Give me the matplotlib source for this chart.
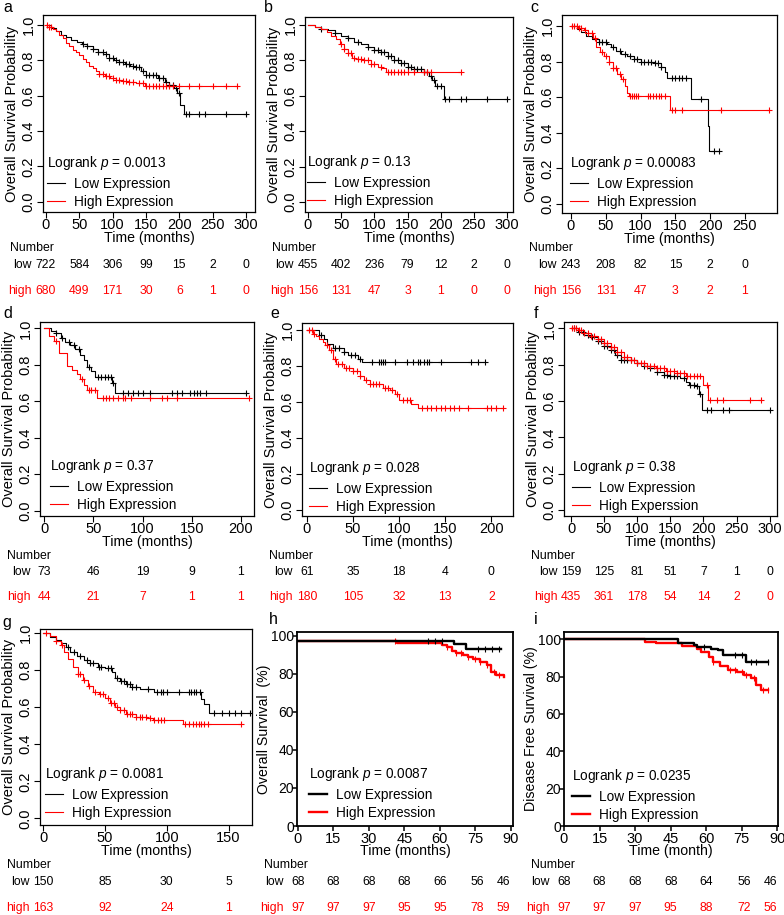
import numpy as np
import matplotlib
matplotlib.use("Agg")
import matplotlib.pyplot as plt
from matplotlib.transforms import blended_transform_factory

plt.rcParams["font.family"] = ["Liberation Sans", "DejaVu Sans"]
plt.rcParams["mathtext.fontset"] = "custom"
plt.rcParams["mathtext.rm"] = "Liberation Sans"
plt.rcParams["mathtext.it"] = "Liberation Sans:italic"

W, H = 784, 915
RED = "#ff0000"
BLACK = "#000000"

# ---- survival curves (step times, survival after the step, censor times) ----
A_LOW_T = [0, 8, 15, 22, 30, 38, 46, 54, 62, 70, 78, 86, 94, 102, 110, 118, 126, 134, 142, 150, 168, 178, 184, 192, 196, 201, 207, 300]
A_LOW_S = [1.0, .985, .965, .945, .93, .915, .905, .895, .88, .865, .85, .835, .815, .80, .79, .78, .77, .76, .74, .715, .70, .68, .66, .645, .615, .55, .495, .495]
A_LOW_C = [55, 62, 70, 78, 85, 90, 95, 100, 105, 110, 115, 120, 125, 130, 135, 140, 145, 150, 155, 160, 165, 170, 175, 180, 185, 190, 195, 200, 210, 215, 230, 238, 270, 300]
A_HIGH_T = [0, 5, 10, 15, 20, 25, 30, 35, 40, 45, 50, 55, 60, 65, 70, 75, 80, 88, 96, 105, 115, 125, 135, 148, 287]
A_HIGH_S = [1.0, .99, .98, .965, .945, .925, .90, .88, .86, .845, .83, .81, .79, .77, .755, .74, .725, .71, .70, .69, .685, .675, .67, .655, .655]
A_HIGH_C = [2, 5, 8, 80, 85, 90, 95, 100, 105, 110, 115, 120, 125, 130, 140, 145, 150, 155, 160, 165, 170, 175, 180, 185, 190, 200, 215, 230, 250, 270, 287]

B_LOW_T = [0, 10, 20, 30, 40, 50, 60, 70, 80, 90, 100, 110, 120, 130, 140, 150, 160, 175, 182, 187, 192, 205, 300]
B_LOW_S = [1.0, .99, .98, .97, .955, .94, .925, .905, .89, .875, .86, .845, .825, .805, .785, .765, .75, .735, .71, .69, .655, .58, .58]
B_LOW_C = [20, 40, 60, 75, 90, 100, 105, 110, 115, 120, 125, 130, 135, 140, 145, 150, 155, 160, 165, 170, 175, 180, 185, 190, 195, 200, 207, 212, 230, 238, 270, 300]
B_HIGH_T = [0, 10, 20, 28, 35, 42, 48, 54, 60, 66, 72, 85, 95, 105, 112, 118, 230]
B_HIGH_S = [1.0, .99, .975, .96, .94, .92, .895, .865, .84, .815, .81, .80, .78, .765, .755, .735, .735]
B_HIGH_C = [50, 55, 60, 65, 70, 75, 80, 85, 90, 95, 100, 110, 120, 125, 130, 135, 140, 145, 150, 160, 175, 180, 185, 230]

C_LOW_T = [0, 8, 15, 22, 30, 40, 52, 58, 64, 72, 80, 90, 100, 120, 130, 135, 138, 172, 197, 199, 212]
C_LOW_S = [1.0, .985, .965, .945, .925, .91, .90, .88, .86, .845, .83, .815, .80, .79, .77, .74, .71, .59, .44, .295, .295]
C_LOW_C = [40, 45, 50, 60, 70, 78, 85, 90, 95, 100, 105, 110, 115, 120, 125, 130, 145, 150, 155, 160, 165, 187, 205, 212]
C_HIGH_T = [0, 10, 18, 25, 32, 36, 42, 48, 54, 60, 66, 72, 77, 81, 84, 142, 285]
C_HIGH_S = [1.0, .99, .975, .96, .93, .88, .855, .83, .80, .765, .73, .70, .665, .625, .605, .53, .53]
C_HIGH_C = [2, 5, 8, 12, 15, 20, 25, 30, 35, 45, 50, 55, 60, 65, 70, 75, 85, 88, 90, 93, 96, 110, 113, 118, 122, 126, 130, 135, 145, 150, 160, 215, 285]

D_LOW_T = [0, 7, 12, 17, 21, 26, 31, 36, 40, 43, 48, 52, 69, 72, 205]
D_LOW_S = [1.0, .986, .973, .945, .927, .909, .885, .854, .826, .79, .768, .735, .70, .645, .645]
D_LOW_C = [12, 18, 25, 30, 35, 45, 55, 58, 62, 65, 68, 70, 80, 85, 90, 95, 100, 108, 130, 135, 140, 148, 152, 155, 158, 165, 205]
D_HIGH_T = [0, 5, 10, 15, 23, 28, 33, 36, 40, 43, 54, 208]
D_HIGH_S = [1.0, .96, .93, .865, .795, .77, .75, .72, .69, .66, .62, .62]
D_HIGH_C = [12, 38, 45, 48, 52, 60, 63, 66, 70, 75, 80, 82, 88, 108, 120, 125, 135, 208]

E_LOW_T = [0, 13, 18, 22, 28, 40, 45, 55, 60, 193]
E_LOW_S = [1.0, .97, .95, .92, .90, .88, .86, .84, .82, .82]
E_LOW_C = [15, 30, 35, 40, 48, 52, 58, 70, 78, 80, 83, 85, 95, 108, 115, 120, 123, 127, 130, 132, 145, 178, 185, 193]
E_HIGH_T = [0, 7, 10, 13, 17, 20, 24, 28, 32, 40, 50, 57, 62, 68, 82, 90, 96, 100, 113, 120, 213]
E_HIGH_S = [1.0, .98, .965, .95, .935, .915, .89, .84, .81, .79, .77, .745, .72, .70, .68, .665, .645, .61, .59, .565, .565]
E_HIGH_C = [2, 5, 8, 22, 26, 30, 34, 38, 42, 46, 50, 54, 58, 64, 68, 72, 75, 78, 85, 88, 92, 98, 104, 108, 112, 125, 130, 135, 140, 145, 150, 155, 160, 165, 175, 195, 200, 205, 213]

F_LOW_T = [0, 10, 20, 30, 40, 50, 60, 67, 75, 100, 110, 120, 130, 140, 150, 165, 173, 178, 188, 193, 198, 300]
F_LOW_S = [1.0, .98, .965, .95, .93, .905, .88, .855, .825, .81, .795, .78, .76, .745, .735, .725, .705, .69, .68, .64, .55, .55]
F_LOW_C = [5, 12, 18, 25, 32, 40, 45, 50, 55, 60, 65, 70, 75, 80, 85, 90, 100, 110, 120, 130, 140, 145, 150, 155, 160, 170, 180, 185, 190, 195, 205, 212, 230, 238, 300]
F_HIGH_T = [0, 10, 20, 30, 40, 50, 60, 70, 80, 90, 100, 115, 128, 143, 160, 173, 200, 207, 287]
F_HIGH_S = [1.0, .99, .975, .96, .94, .92, .895, .87, .845, .825, .81, .795, .78, .765, .755, .74, .69, .605, .605]
F_HIGH_C = [2, 5, 8, 12, 15, 20, 25, 30, 35, 40, 45, 50, 55, 60, 65, 70, 75, 80, 85, 90, 95, 100, 105, 110, 115, 120, 125, 130, 135, 140, 145, 150, 155, 160, 165, 170, 175, 180, 185, 190, 195, 205, 210, 220, 230, 270, 287]

G_LOW_T = [0, 5, 10, 14, 18, 22, 27, 33, 38, 44, 50, 56, 58, 62, 67, 72, 78, 90, 128, 130, 134, 167]
G_LOW_S = [1.0, .98, .965, .95, .925, .90, .875, .855, .84, .82, .81, .79, .76, .74, .725, .71, .70, .685, .645, .62, .57, .57]
G_LOW_C = [20, 25, 30, 35, 38, 40, 45, 47, 52, 55, 60, 63, 65, 68, 70, 72, 75, 85, 92, 95, 97, 100, 110, 118, 120, 122, 124, 127, 138, 145, 150, 155, 160, 167]
G_HIGH_T = [0, 5, 10, 14, 17, 20, 24, 28, 32, 36, 40, 45, 50, 54, 58, 62, 67, 75, 84, 89, 113, 160]
G_HIGH_S = [1.0, .985, .96, .935, .90, .86, .82, .78, .75, .715, .685, .67, .65, .625, .60, .585, .565, .55, .54, .53, .51, .51]
G_HIGH_C = [2, 10, 15, 28, 30, 33, 37, 42, 46, 48, 52, 55, 57, 60, 62, 65, 68, 70, 72, 75, 78, 80, 83, 86, 90, 93, 95, 98, 115, 118, 121, 124, 126, 128, 130, 133, 160]

H_LOW_T = [0, 66, 71, 86]
H_LOW_S = [97.5, 96, 93, 93]
H_LOW_C = [55, 58, 61, 76, 79, 82, 85]
H_HIGH_T = [0, 42, 61, 63, 65, 67, 70, 72, 74, 77, 80, 81.5, 84, 87]
H_HIGH_S = [97.5, 96.5, 95.5, 94, 92, 91, 90, 89, 88, 86.5, 84.5, 81, 79.5, 78.5]
H_HIGH_C = [41, 63, 67, 69, 72, 75, 77, 80, 83, 85]

I_LOW_T = [0, 48, 55, 56, 62, 65, 67, 77, 86]
I_LOW_S = [100, 98.2, 97, 96, 95, 94, 91.4, 88, 88]
I_LOW_C = [59, 72, 75, 79, 81, 86]
I_HIGH_T = [0, 34, 39, 50, 56, 58, 61, 63, 66, 69, 73, 76, 79, 81, 83, 86]
I_HIGH_S = [100, 98.8, 98, 96.6, 95, 93, 90.7, 88, 85.5, 83.6, 82.7, 81, 79, 75.5, 73, 73]
I_HIGH_C = [63, 70, 72, 75, 77, 80, 84, 86]

# ---- number at risk ----
A_RISK_LOW = [722, 584, 306, 99, 15, 2, 0]
A_RISK_HIGH = [680, 499, 171, 30, 6, 1, 0]
B_RISK_LOW = [455, 402, 236, 79, 12, 2, 0]
B_RISK_HIGH = [156, 131, 47, 3, 1, 0, 0]
C_RISK_LOW = [243, 208, 82, 15, 2, 0]
C_RISK_HIGH = [156, 131, 47, 3, 2, 1]
D_RISK_LOW = [73, 46, 19, 9, 1]
D_RISK_HIGH = [44, 21, 7, 1, 1]
E_RISK_LOW = [61, 35, 18, 4, 0]
E_RISK_HIGH = [180, 105, 32, 13, 2]
F_RISK_LOW = [159, 125, 81, 51, 7, 1, 0]
F_RISK_HIGH = [435, 361, 178, 54, 14, 2, 0]
G_RISK_LOW = [150, 85, 30, 5]
G_RISK_HIGH = [163, 92, 24, 1]
H_RISK_LOW = [68, 68, 68, 68, 66, 56, 46]
H_RISK_HIGH = [97, 97, 97, 95, 95, 78, 59]
I_RISK_LOW = [68, 68, 68, 68, 64, 56, 46]
I_RISK_HIGH = [97, 97, 97, 95, 88, 72, 56]
RISK_TIMES_GP = [0, 15, 30, 45, 60, 76, 87]

P_VALUES = ["0.0013", "0.13", "0.00083", "0.37", "0.028", "0.38", "0.0081", "0.0087", "0.0235"]
LETTERS = ["a", "b", "c", "d", "e", "f", "g", "h", "i"]
HIGH_LABELS = ["High Expression"] * 5 + ["High Experssion"] + ["High Expression"] * 3

CURVES = [
    (A_LOW_T, A_LOW_S, A_LOW_C, A_HIGH_T, A_HIGH_S, A_HIGH_C),
    (B_LOW_T, B_LOW_S, B_LOW_C, B_HIGH_T, B_HIGH_S, B_HIGH_C),
    (C_LOW_T, C_LOW_S, C_LOW_C, C_HIGH_T, C_HIGH_S, C_HIGH_C),
    (D_LOW_T, D_LOW_S, D_LOW_C, D_HIGH_T, D_HIGH_S, D_HIGH_C),
    (E_LOW_T, E_LOW_S, E_LOW_C, E_HIGH_T, E_HIGH_S, E_HIGH_C),
    (F_LOW_T, F_LOW_S, F_LOW_C, F_HIGH_T, F_HIGH_S, F_HIGH_C),
    (G_LOW_T, G_LOW_S, G_LOW_C, G_HIGH_T, G_HIGH_S, G_HIGH_C),
    (H_LOW_T, H_LOW_S, H_LOW_C, H_HIGH_T, H_HIGH_S, H_HIGH_C),
    (I_LOW_T, I_LOW_S, I_LOW_C, I_HIGH_T, I_HIGH_S, I_HIGH_C),
]
RISKS = [
    (A_RISK_LOW, A_RISK_HIGH), (B_RISK_LOW, B_RISK_HIGH), (C_RISK_LOW, C_RISK_HIGH),
    (D_RISK_LOW, D_RISK_HIGH), (E_RISK_LOW, E_RISK_HIGH), (F_RISK_LOW, F_RISK_HIGH),
    (G_RISK_LOW, G_RISK_HIGH), (H_RISK_LOW, H_RISK_HIGH), (I_RISK_LOW, I_RISK_HIGH),
]

# ---- layout (pixels) ----
BOXES = [(43, 15, 255, 212), (305, 17, 513, 212), (562, 15, 777, 213),
         (40, 322, 254, 516), (302, 323, 513, 516), (564, 322, 777, 516),
         (40, 629, 252, 825), (297, 632, 513, 826), (564, 632, 778, 826)]
XLIMS = [(-4.5, 313.5), (-4.5, 309), (-12.9, 296), (-4.4, 213.4), (-5.4, 223.5),
         (-10.6, 311), (-2.7, 169), (-0.4, 91), (0, 90.3)]
YLIMS = [(-0.058, 1.057), (-0.056, 1.045), (-0.051, 1.062), (-0.029, 1.035), (-0.033, 1.039),
         (-0.033, 1.035), (-0.036, 1.023), (0, 102.1), (0, 103.9)]
XSTEP = [50, 50, 50, 50, 50, 50, 50, 15, 15]
XMAX = [300, 300, 250, 200, 200, 300, 150, 90, 90]
LEGEND_AT = [(47, 202), (307, 201), (570, 202), (50, 505), (309, 507), (572, 506),
             (45, 813), (309, 813), (572, 815)]
LETTER_AT = [(3, 8), (264, 8), (530, 7), (3, 313), (270, 313), (534, 313),
             (2, 622), (269, 620), (534, 620)]
ROW_Y = [(248, 265, 291), (556, 572, 597), (865, 882, 908)]

TICK_FS = 10.5
LABEL_FS = 10.2
LEGEND_FS = 9.8
TABLE_FS = 8.8


def value_at(times, surv, when):
    idx = np.searchsorted(times, when, side="right") - 1
    return np.asarray(surv)[idx]


fig = plt.figure(figsize=(W / 100, H / 100), dpi=100)

for k in range(9):
    l, t, r, b = BOXES[k]
    ax = fig.add_axes([l / W, 1 - b / H, (r - l) / W, (b - t) / H])
    gp = k >= 7
    lo_t, lo_s, lo_c, hi_t, hi_s, hi_c = CURVES[k]
    lw = 1.7 if gp else 0.8
    mk = "|" if gp else "+"
    ms = 5 if gp else 4.8

    def curve(tt, ss, cc, color, z):
        line, = ax.step(tt, ss, where="post", color=color, lw=lw, zorder=z)
        ax.plot(cc, value_at(tt, ss, cc), ls="none", marker=mk, ms=ms, mew=0.8,
                color=color, zorder=z)
        return line

    if gp:
        hi_line = curve(hi_t, hi_s, hi_c, RED, 2)
        lo_line = curve(lo_t, lo_s, lo_c, BLACK, 3)
    else:
        lo_line = curve(lo_t, lo_s, lo_c, BLACK, 2)
        hi_line = curve(hi_t, hi_s, hi_c, RED, 3)

    ax.set_xlim(*XLIMS[k])
    ax.set_ylim(*YLIMS[k])
    xt = np.arange(0, XMAX[k] + 1, XSTEP[k])
    ax.set_xticks(xt)

    if gp:
        for sp in ax.spines.values():
            sp.set_linewidth(1.3)
        ax.set_yticks(np.arange(0, 101, 20))
        ax.tick_params(axis="x", length=3.5, width=1.1, pad=0.5, labelsize=TICK_FS)
        ax.tick_params(axis="y", length=3, width=1.1, pad=-0.8, labelsize=TICK_FS - 0.5)
        ax.set_ylabel("Overall Survival  (%)" if k == 7 else "Disease Free Survival (%)",
                      fontsize=LABEL_FS, labelpad=0)
        ax.set_xlabel("Time (months)" if k == 7 else "Time (month)",
                      fontsize=LABEL_FS, labelpad=-1)
        risk_x = RISK_TIMES_GP
    else:
        for sp in ax.spines.values():
            sp.set_linewidth(0.9)
        ax.set_yticks(np.arange(0, 1.01, 0.2))
        ax.set_yticklabels([f"{v:.1f}" for v in np.arange(0, 1.01, 0.2)])
        ax.tick_params(axis="both", length=4, width=0.8, labelsize=TICK_FS)
        ax.tick_params(axis="x", pad=0.3)
        ax.tick_params(axis="y", pad=1.2)
        for lab in ax.get_yticklabels():
            lab.set_rotation(90)
            lab.set_va("center")
        ax.set_ylabel("Overall Survival Probability", fontsize=LABEL_FS + 0.3, labelpad=2)
        ax.set_xlabel("Time (months)", fontsize=LABEL_FS, labelpad=-1)
        risk_x = xt

    hx, hy = LEGEND_AT[k]
    ax.legend([lo_line, hi_line], ["Low Expression", HIGH_LABELS[k]],
              title=f"Logrank $p$ = {P_VALUES[k]}", loc="lower left",
              bbox_to_anchor=((hx - l) / (r - l), (b - hy - 7) / (b - t)),
              frameon=False, fontsize=LEGEND_FS, title_fontsize=LEGEND_FS, alignment="left",
              handlelength=1.3, handletextpad=0.7, labelspacing=0.33,
              borderpad=0, borderaxespad=0)

    # number at risk table
    ny, ly, hy2 = ROW_Y[k // 3]
    trans = blended_transform_factory(ax.transData, fig.transFigure)
    fig.text((l - 33) / W, 1 - ny / H, "Number", ha="left", va="center", fontsize=TABLE_FS)
    risk_lo, risk_hi = RISKS[k]
    for yy, vals, color, name in ((ly, risk_lo, BLACK, "low"), (hy2, risk_hi, RED, "high")):
        ax.annotate(name, xy=(risk_x[0], 1 - yy / H), xycoords=trans,
                    xytext=(-10, 0), textcoords="offset points",
                    ha="right", va="center", fontsize=TABLE_FS, color=color)
        for xv, v in zip(risk_x, vals):
            ax.text(xv, 1 - yy / H, str(v), transform=trans, ha="center", va="center",
                    fontsize=TABLE_FS, color=color, clip_on=False)

    lx, lyy = LETTER_AT[k]
    fig.text(lx / W, 1 - lyy / H, LETTERS[k], ha="left", va="center", fontsize=11.5)

fig.savefig("out.png", dpi=100)
